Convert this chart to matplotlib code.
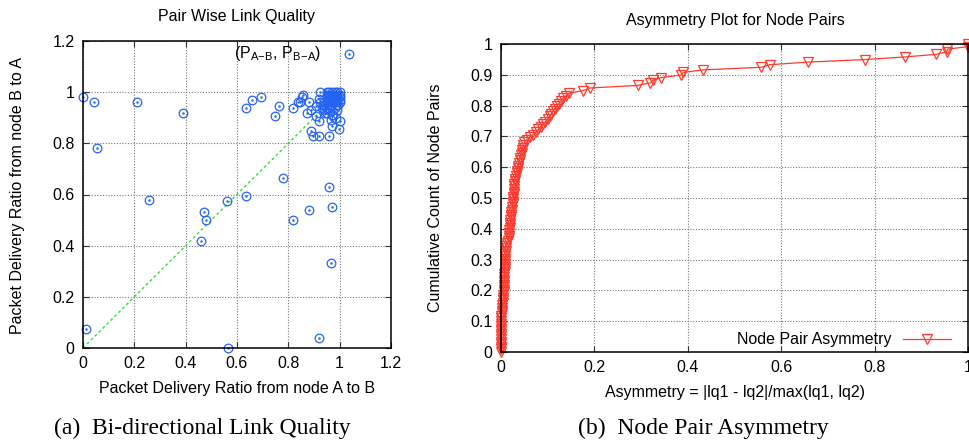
import numpy as np
import matplotlib
matplotlib.use("Agg")
import matplotlib.pyplot as plt

plt.rcParams['font.family'] = ['Liberation Sans', 'DejaVu Sans']
plt.rcParams['mathtext.fontset'] = 'custom'
plt.rcParams['mathtext.rm'] = 'Liberation Sans'
plt.rcParams['mathtext.it'] = 'Liberation Sans'

# --- (a) pair wise link quality: PDR A->B vs PDR B->A ---
pdr_ab = [0.00, 0.043, 0.053, 0.21, 0.39, 0.257, 0.012, 0.47, 0.48, 0.461,
          0.561, 0.565, 0.636, 0.779, 0.819, 0.88, 0.958, 0.969, 0.968, 0.918,
          1.037, 0.636, 0.657, 0.693, 0.765, 0.748, 0.818, 0.836, 0.844, 0.852,
          0.858, 0.88, 0.874, 0.887, 0.897, 0.919, 0.959, 0.89, 0.906, 0.919,
          0.925, 0.908, 0.999, 1.0, 0.969, 0.975, 0.944, 0.963,
          0.95, 0.96, 0.97, 0.98, 0.99, 1.0,
          0.95, 0.96, 0.97, 0.98, 0.99, 1.0,
          0.95, 0.96, 0.97, 0.98, 0.99, 1.0,
          0.95, 0.96, 0.97, 0.98, 0.99, 1.0,
          0.95, 0.96, 0.97, 0.98, 0.99, 1.0,
          0.955, 0.965, 0.985, 0.995, 0.94, 0.935, 0.93, 0.96, 0.98, 0.99,
          0.95, 0.97, 0.985, 0.965, 0.94, 0.925, 0.92]
pdr_ba = [0.98, 0.96, 0.78, 0.96, 0.92, 0.58, 0.075, 0.53, 0.50, 0.418,
          0.576, 0.0, 0.595, 0.666, 0.50, 0.54, 0.63, 0.55, 0.332, 0.04,
          1.148, 0.94, 0.97, 0.98, 0.947, 0.908, 0.94, 0.962, 0.96, 0.98,
          0.99, 0.96, 0.92, 0.85, 0.829, 0.829, 0.829, 0.929, 0.947, 0.889,
          1.0, 0.908, 0.857, 0.889, 0.869, 0.91, 0.92, 0.93,
          1.0, 1.0, 1.0, 1.0, 1.0, 1.0,
          0.99, 0.99, 0.99, 0.99, 0.99, 0.99,
          0.98, 0.98, 0.98, 0.98, 0.98, 0.98,
          0.97, 0.97, 0.97, 0.97, 0.97, 0.97,
          0.96, 0.96, 0.96, 0.96, 0.96, 0.96,
          0.95, 0.95, 0.95, 0.95, 0.96, 0.95, 0.94, 0.94, 0.94, 0.93,
          0.92, 0.91, 0.90, 0.89, 0.93, 0.96, 0.975]
diag = [0.0, 1.0]

# --- (b) asymmetry values of node pairs (sorted) ---
asym = [0.0, 0.0, 0.0, 0.0, 0.0, 0.0, 0.0, 0.0, 0.0, 0.0, 0.0, 0.0, 0.0, 0.0, 0.0,
        0.002, 0.002, 0.003, 0.003, 0.004, 0.004, 0.005, 0.005, 0.006, 0.006,
        0.006, 0.006, 0.007, 0.007, 0.007, 0.007, 0.008, 0.008, 0.008, 0.008,
        0.009, 0.009, 0.009, 0.009, 0.010, 0.010, 0.010,
        0.012, 0.016,
        0.017, 0.017, 0.018, 0.018, 0.019, 0.019, 0.020, 0.020, 0.021, 0.021, 0.022,
        0.024, 0.024, 0.025, 0.025, 0.026, 0.026, 0.027, 0.027, 0.027, 0.028, 0.028,
        0.029, 0.030, 0.032,
        0.034, 0.035, 0.036, 0.037, 0.038, 0.040, 0.041, 0.042, 0.044,
        0.045, 0.047, 0.048, 0.050,
        0.055, 0.062, 0.068, 0.075,
        0.080, 0.085, 0.090, 0.095,
        0.100, 0.104, 0.108, 0.111,
        0.115, 0.120, 0.124,
        0.128, 0.133, 0.139, 0.145,
        0.176, 0.19, 0.293, 0.32, 0.325, 0.342, 0.386, 0.39, 0.432, 0.557,
        0.576, 0.657, 0.78, 0.865, 0.932, 0.955, 0.956, 1.0, 1.0]
cum = np.arange(len(asym)) / (len(asym) - 1)

blue = '#2563f5'
red = '#ff3a2e'
grid_kw = dict(color='#777777', linestyle=(0, (1, 1.5)), linewidth=0.8)
fs = 11.5

fig = plt.figure(figsize=(9.7, 4.43), dpi=100)

# ---------- left plot ----------
ax1 = fig.add_axes([83/970, 1-348/443, 308/970, 307/443])
ax1.plot(diag, diag, color='#33dd33', linestyle=(0, (2, 2)), linewidth=1.0)
ax1.plot(pdr_ab, pdr_ba, 'o', ms=6.2, mfc='none', mec=blue, mew=0.9, clip_on=False)
ax1.plot(pdr_ab, pdr_ba, '.', ms=1.5, color=blue, clip_on=False)
ax1.set_xlim(0, 1.2)
ax1.set_ylim(0, 1.2)
t1 = [0, 0.2, 0.4, 0.6, 0.8, 1, 1.2]
l1 = ['0', '0.2', '0.4', '0.6', '0.8', '1', '1.2']
ax1.set_xticks(t1, l1)
ax1.set_yticks(t1, l1)
ax1.grid(True, **grid_kw)
ax1.text(0.59, 1.15, r'(P$_{\mathrm{A\!-\!B}}$, P$_{\mathrm{B\!-\!A}}$)',
         fontsize=11.5, va='center', ha='left')

# ---------- right plot ----------
ax2 = fig.add_axes([501/970, 1-352/443, 467/970, 308/443])
ax2.plot(asym, cum, '-', color=red, lw=0.9, marker='v', ms=7, mfc='none',
         mec=red, mew=0.9, clip_on=False, label='Node Pair Asymmetry')
ax2.set_xlim(0, 1)
ax2.set_ylim(0, 1)
t2x = [0, 0.2, 0.4, 0.6, 0.8, 1]
l2x = ['0', '0.2', '0.4', '0.6', '0.8', '1']
t2y = [0, 0.1, 0.2, 0.3, 0.4, 0.5, 0.6, 0.7, 0.8, 0.9, 1]
l2y = ['0', '0.1', '0.2', '0.3', '0.4', '0.5', '0.6', '0.7', '0.8', '0.9', '1']
ax2.set_xticks(t2x, l2x)
ax2.set_yticks(t2y, l2y)
ax2.grid(True, **grid_kw)
ax2.legend(loc='center right', bbox_to_anchor=(0.963, 0.04), frameon=False,
           markerfirst=False, handlelength=3.0, handletextpad=0.7,
           borderpad=0, borderaxespad=0, fontsize=fs)

for ax in (ax1, ax2):
    ax.set_axisbelow(True)
    for s in ax.spines.values():
        s.set_linewidth(1.1)
    ax.tick_params(direction='in', top=True, right=True, length=4, width=0.8,
                   labelsize=fs, pad=6, color='#333333')

# titles, axis labels, captions
fig.text(237/970, 1-17/443, 'Pair Wise Link Quality', ha='center', va='center', fontsize=fs)
fig.text(735/970, 1-21/443, 'Asymmetry Plot for Node Pairs', ha='center', va='center', fontsize=fs)
fig.text(18/970, 1-195/443, 'Packet Delivery Ratio from node B to A', rotation=90,
         ha='center', va='center', fontsize=fs)
fig.text(436/970, 1-198/443, 'Cumulative Count of Node Pairs', rotation=90,
         ha='center', va='center', fontsize=fs)
fig.text(237/970, 1-388/443, 'Packet Delivery Ratio from node A to B',
         ha='center', va='center', fontsize=fs)
fig.text(735/970, 1-392/443, 'Asymmetry = |lq1 - lq2|/max(lq1, lq2)',
         ha='center', va='center', fontsize=fs)
fig.text(202/970, 1-428/443, '(a)  Bi-directional Link Quality', ha='center', va='center',
         fontsize=17, family=['Liberation Serif', 'DejaVu Serif'])
fig.text(703/970, 1-428/443, '(b)  Node Pair Asymmetry', ha='center', va='center',
         fontsize=17, family=['Liberation Serif', 'DejaVu Serif'])

fig.savefig('out.png', dpi=100)
